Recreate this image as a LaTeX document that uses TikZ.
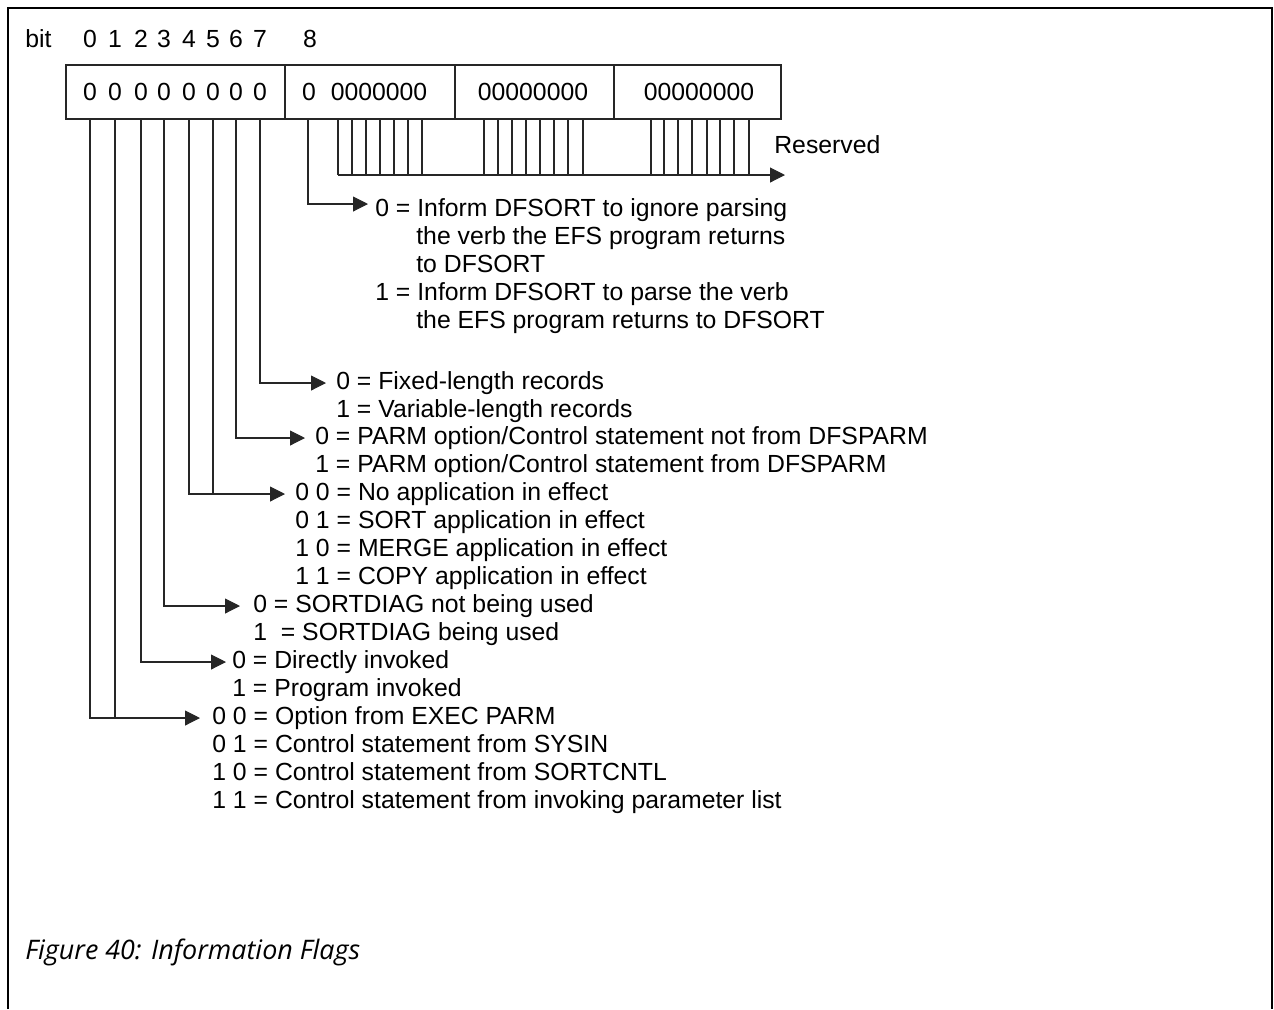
\documentclass[tikz,border=0pt]{standalone}
\usepackage{fontspec}
\setmainfont{Liberation Sans}
\newfontfamily\capfont{Open Sans}
\usetikzlibrary{arrows.meta}

\begin{document}
\begin{tikzpicture}[x=0.02cm, y=-0.02cm,
    wire/.style={line width=0.6pt, black!85},
    toflag/.style={wire, -{Triangle[length=0.3cm, width=0.3cm]}, shorten >=0.2cm},
    flag/.style={anchor=west, inner sep=0pt, text height=0.72em, text depth=0pt,
        font=\fontsize{14.1}{17}\selectfont},
    digit/.style={anchor=base, inner sep=0pt, font=\fontsize{14.1}{17}\selectfont}]
    \useasboundingbox (0,0) rectangle (1274,1009);

    % outer frame, open at the bottom
    \draw[line width=1.6pt] (8,1009) -- (8,8) -- (1272,8) -- (1272,1009);

    % bit numbers and the first byte
    \node[digit, anchor=base west] (bitlbl) at (25,47) {bit};
    \foreach \b/\x in {0/90,1/115,2/141,3/164,4/189,5/213,6/236,7/260}{
        \node[digit] (h\b) at (\x,47) {\b};
        \node[digit] (v\b) at (\x,100) {0};
        \coordinate (b\b) at (\x,119);
    }
    \node[digit] (h8) at (310,47) {8};

    % the four bytes
    \draw[wire] (66,65) rectangle (781,119);
    \foreach \x in {285,455,614}
        \draw[wire] (\x,65) -- (\x,119);
    \node[digit] (v8) at (309,100) {0};
    \node[digit] (byte2) at (379,100) {0000000};
    \node[digit] (byte3) at (533,100) {00000000};
    \node[digit] (byte4) at (699,100) {00000000};

    % reserved bits
    \foreach \x in {338,352,366,380,394,408,422,484,498,512,526,540,554,568,583,
                    651,664,678,692,707,720,734,749}
        \draw[wire] (\x,119) -- (\x,175);
    \coordinate (rsvstart) at (338,175);
    \coordinate (rsvend) at (785,175);
    \draw[wire, -{Triangle[length=0.3cm, width=0.3cm]}] (rsvstart) -- (rsvend);
    \node[flag] (rsv) at (774,147) {Reserved};

    % bit 8
    \coordinate (b8) at (308,119);
    \node[flag] (t8a) at (375,210) {0 = Inform DFSORT to ignore parsing};
    \node[flag] (t8b) at (416,238) {the verb the EFS program returns};
    \node[flag] (t8c) at (416,266) {to DFSORT};
    \node[flag] (t8d) at (375,294) {1 = Inform DFSORT to parse the verb};
    \node[flag] (t8e) at (416,322) {the EFS program returns to DFSORT};
    \draw[toflag, shorten >=0.14cm] (b8) |- ([yshift=0.12cm]t8a.west);

    % bit 7
    \node[flag] (t7a) at (336,383) {0 = Fixed-length records};
    \node[flag] (t7b) at (336,411) {1 = Variable-length records};
    \draw[toflag] (b7) |- (t7a.west);

    % bit 6
    \node[flag] (t6a) at (315,438) {0 = PARM option/Control statement not from DFSPARM};
    \node[flag] (t6b) at (315,466) {1 = PARM option/Control statement from DFSPARM};
    \draw[toflag] (b6) |- (t6a.west);

    % bits 4 and 5
    \node[flag] (t4a) at (295,494) {0 0 = No application in effect};
    \node[flag] (t4b) at (295,522) {0 1 = SORT application in effect};
    \node[flag] (t4c) at (295,550) {1 0 = MERGE application in effect};
    \node[flag] (t4d) at (295,578) {1 1 = COPY application in effect};
    \draw[wire] (b5) -- (b5 |- t4a.west);
    \draw[toflag] (b4) |- (t4a.west);

    % bit 3
    \node[flag] (t3a) at (253,606) {0 = SORTDIAG not being used};
    \node[flag] (t3b) at (253,634) {1\ \ = SORTDIAG being used};
    \draw[toflag, shorten >=0.26cm] (b3) |- (t3a.west);

    % bit 2
    \node[flag] (t2a) at (232,662) {0 = Directly invoked};
    \node[flag] (t2b) at (232,690) {1 = Program invoked};
    \draw[toflag, shorten >=0.12cm] (b2) |- (t2a.west);

    % bits 0 and 1
    \node[flag] (t0a) at (212,718) {0 0 = Option from EXEC PARM};
    \node[flag] (t0b) at (212,746) {0 1 = Control statement from SYSIN};
    \node[flag] (t0c) at (212,774) {1 0 = Control statement from SORTCNTL};
    \node[flag] (t0d) at (212,802) {1 1 = Control statement from invoking parameter list};
    \draw[wire] (b1) -- (b1 |- t0a.west);
    \draw[toflag, shorten >=0.24cm] (b0) |- (t0a.west);

    % caption
    \node[anchor=west, inner sep=0pt, font=\capfont\itshape\fontsize{15.3}{18}\selectfont]
        (caption) at (25,952) {Figure 40: Information Flags};
\end{tikzpicture}
\end{document}
